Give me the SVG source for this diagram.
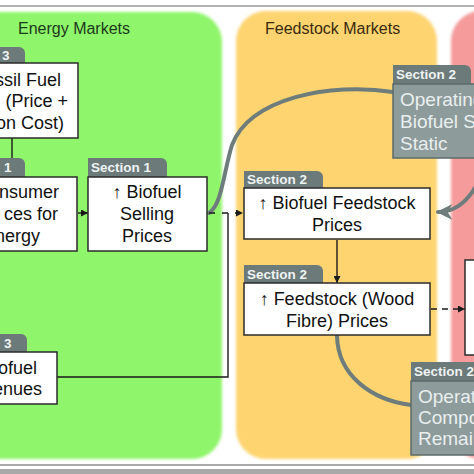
<svg xmlns="http://www.w3.org/2000/svg" width="474" height="474" viewBox="0 0 474 474">
<defs>
<style>
.box{fill:#fff;stroke:#2b2b2b;stroke-width:1.5}
.tab{fill:#6c7a7a}
.gbox{fill:#8e9b9b;stroke:#5e6b6b;stroke-width:1.5}
.tt{font-family:"Liberation Sans",Arial,sans-serif;font-size:13.5px;font-weight:bold;fill:#eef3f3}
.bt{font-family:"Liberation Sans",Arial,sans-serif;font-size:18px;fill:#111}
.gt{font-family:"Liberation Sans",Arial,sans-serif;font-size:19px;fill:#e9efef}
.ttl{font-family:"Liberation Sans",Arial,sans-serif;font-size:16px}
.ln{fill:none;stroke:#1a1a1a;stroke-width:1.4}
.curve{fill:none;stroke:#6e7c7c;stroke-width:4;stroke-linecap:round}
</style>
<marker id="ah" viewBox="0 0 10 10" refX="10" refY="5" markerWidth="7" markerHeight="7" markerUnits="userSpaceOnUse" orient="auto">
<path d="M0,0 L10,5 L0,10 z" fill="#1a1a1a"/>
</marker>
<marker id="gah" viewBox="0 0 10 10" refX="9" refY="5" markerWidth="4" markerHeight="4" orient="auto">
<path d="M0,0 L10,5 L0,10 L3,5 z" fill="#6e7c7c"/>
</marker>
<filter id="soft" x="-5%" y="-5%" width="110%" height="110%"><feGaussianBlur stdDeviation="1.5"/></filter>
</defs>
<rect width="474" height="474" fill="#fff"/>
<line x1="0" y1="6" x2="474" y2="6" stroke="#666" stroke-width="1.2"/>
<line x1="0" y1="465" x2="474" y2="465" stroke="#555" stroke-width="1.2"/>
<rect x="0" y="469" width="474" height="5" fill="#a9a9a9"/>
<g id="panels" filter="url(#soft)">
<rect x="-40" y="12" width="262" height="447" rx="30" fill="#8ff56b"/>
<rect x="236" y="11" width="201" height="448" rx="30" fill="#fdd46f"/>
<rect x="451" y="11" width="60" height="448" rx="30" fill="#f59b9b"/>
</g>
<text class="ttl" x="18" y="34" fill="#1c3a1c">Energy Markets</text>
<text class="ttl" x="265" y="34" fill="#3a2a0e">Feedstock Markets</text>
<g id="connectors">
<path class="curve" d="M393,92 C330,82 250,98 232,145 C224,170 222,205 209,213"/>
<path class="curve" d="M337,336 C338,376 372,400 411,405"/>
<path class="curve" d="M476,186 C466,204 452,212 438,212" marker-end="url(#gah)"/>
<path class="ln" d="M12,138 V176" marker-end="url(#ah)"/>
<path class="ln" d="M78,213 H88" marker-end="url(#ah)"/>
<path class="ln" d="M209,213 H243" stroke-dasharray="6 7" marker-end="url(#ah)"/>
<path class="ln" d="M57,377 H228 V213"/>
<path class="ln" d="M337,240 V283" marker-end="url(#ah)"/>
<path class="ln" d="M431,309 H465" stroke-dasharray="6 5" marker-end="url(#ah)"/>
</g>
<g id="fossil">
<path class="tab" d="M-5,47 H19 a6,6 0 0 1 6,6 V63 H-5 z"/>
<text class="tt" x="2" y="60">3</text>
<rect class="box" x="-5" y="63" width="83" height="75"/>
<text class="bt" x="61" y="86" text-anchor="end">ssil Fuel</text>
<text class="bt" x="68" y="107" text-anchor="end">(Price +</text>
<text class="bt" x="64" y="129" text-anchor="end">on Cost)</text>
</g>
<g id="consumer">
<path class="tab" d="M-5,158 H19 a6,6 0 0 1 6,6 V177 H-5 z"/>
<text class="tt" x="4" y="172">1</text>
<rect class="box" x="-5" y="177" width="82" height="74"/>
<text class="bt" x="59" y="198" text-anchor="end">nsumer</text>
<text class="bt" x="58" y="220" text-anchor="end">ces for</text>
<text class="bt" x="40" y="242" text-anchor="end">nergy</text>
</g>
<g id="selling">
<path class="tab" d="M88,158 H161 a6,6 0 0 1 6,6 V177 H88 z"/>
<text class="tt" x="91" y="172">Section 1</text>
<rect class="box" x="88" y="177" width="119" height="74"/>
<text class="bt" x="147" y="198" text-anchor="middle">↑ Biofuel</text>
<text class="bt" x="147" y="220" text-anchor="middle">Selling</text>
<text class="bt" x="147" y="242" text-anchor="middle">Prices</text>
</g>
<g id="revenues">
<path class="tab" d="M-5,334 H21 a6,6 0 0 1 6,6 V352 H-5 z"/>
<text class="tt" x="4" y="348">3</text>
<rect class="box" x="-5" y="352" width="62" height="52"/>
<text class="bt" x="37" y="374" text-anchor="end">ofuel</text>
<text class="bt" x="42" y="395" text-anchor="end">enues</text>
</g>
<g id="feedstock">
<path class="tab" d="M244,171 H317 a6,6 0 0 1 6,6 V188 H244 z"/>
<text class="tt" x="247" y="184">Section 2</text>
<rect class="box" x="244" y="188" width="186" height="51"/>
<text class="bt" x="337" y="209" text-anchor="middle">↑ Biofuel Feedstock</text>
<text class="bt" x="337" y="231" text-anchor="middle">Prices</text>
</g>
<g id="wood">
<path class="tab" d="M244,265 H317 a6,6 0 0 1 6,6 V283 H244 z"/>
<text class="tt" x="247" y="279">Section 2</text>
<rect class="box" x="244" y="283" width="186" height="52"/>
<text class="bt" x="337" y="305" text-anchor="middle">↑ Feedstock (Wood</text>
<text class="bt" x="337" y="327" text-anchor="middle">Fibre) Prices</text>
</g>
<g id="operating-static">
<path class="tab" d="M393,65 H465 a6,6 0 0 1 6,6 V84 H393 z"/>
<text class="tt" x="396" y="79">Section 2</text>
<rect class="gbox" x="393" y="84" width="90" height="74"/>
<text class="gt" x="400" y="106">Operating</text>
<text class="gt" x="400" y="128">Biofuel S</text>
<text class="gt" x="400" y="150">Static</text>
</g>
<g id="red-box">
<rect class="box" x="465" y="260" width="20" height="95"/>
</g>
<g id="operating-remain">
<path class="tab" d="M411,362 H480 V381 H411 z"/>
<text class="tt" x="414" y="376">Section 2</text>
<rect class="gbox" x="411" y="381" width="75" height="74"/>
<text class="gt" x="418" y="403">Operat</text>
<text class="gt" x="418" y="424">Compo</text>
<text class="gt" x="418" y="445">Remain</text>
</g>
</svg>
